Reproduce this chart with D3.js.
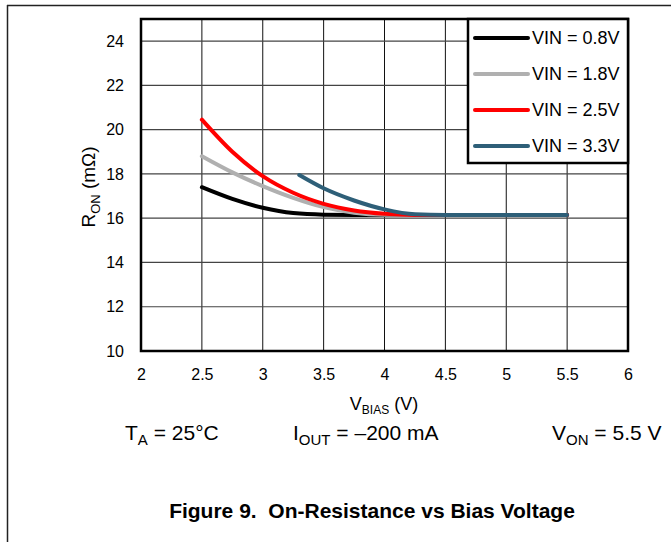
<!doctype html>
<html lang="en">
<head>
<meta charset="utf-8">
<title>On-Resistance vs Bias Voltage</title>
<script src="https://d3js.org/d3.v7.min.js"></script>
<style>
    body { margin: 0; background: #fff; font-family: Arial, "Liberation Sans", sans-serif; }
    text { fill: #000; font-family: Arial, "Liberation Sans", sans-serif; }
    .tick text { font-size: 16px; }
</style>
</head>
<body>
<div id="chart"></div>
<script>
    // data
    const xTicks = [2, 2.5, 3, 3.5, 4, 4.5, 5, 5.5, 6];
    const yTicks = [10, 12, 14, 16, 18, 20, 22, 24];
    const seriesNames = ["VIN = 0.8V", "VIN = 1.8V", "VIN = 2.5V", "VIN = 3.3V"];
    const seriesColors = ["#000000", "#b0b0b0", "#ff0000", "#2e5f78"];
    const vin08 = [[2.5, 17.4], [2.75, 16.87], [3.0, 16.47], [3.25, 16.23], [3.5, 16.16], [3.75, 16.15], [4.0, 16.15], [4.5, 16.15], [5.0, 16.15], [5.5, 16.15]];
    const vin18 = [[2.5, 18.8], [2.75, 18.07], [3.0, 17.45], [3.25, 16.92], [3.5, 16.5], [3.75, 16.25], [4.0, 16.16], [4.25, 16.15], [4.5, 16.15], [5.0, 16.15], [5.5, 16.15]];
    const vin25 = [[2.5, 20.45], [2.75, 19.0], [3.0, 17.9], [3.25, 17.15], [3.5, 16.65], [3.75, 16.35], [4.0, 16.2], [4.25, 16.15], [4.5, 16.15], [5.0, 16.15], [5.5, 16.15]];
    const vin33 = [[3.3, 17.95], [3.5, 17.35], [3.75, 16.8], [4.0, 16.4], [4.25, 16.18], [4.5, 16.15], [5.0, 16.15], [5.5, 16.15]];
    const series = [vin08, vin18, vin25, vin33];

    const W = 671, H = 542;
    const margin = {left: 141, right: 43, top: 19, bottom: 191};
    const width = W - margin.left - margin.right;
    const height = H - margin.top - margin.bottom;

    const svg = d3.select("#chart").append("svg")
        .attr("width", W)
        .attr("height", H);

    // page frame
    svg.append("line").attr("x1", 7).attr("x2", W).attr("y1", 5.5).attr("y2", 5.5)
        .attr("stroke", "#222").attr("stroke-width", 1.5);
    svg.append("line").attr("x1", 7.5).attr("x2", 7.5).attr("y1", 5).attr("y2", H)
        .attr("stroke", "#222").attr("stroke-width", 1.5);

    const x = d3.scaleLinear().domain([2, 6]).range([0, width]);
    const y = d3.scaleLinear().domain([10, 25]).range([height, 0]);

    const g = svg.append("g").attr("transform", `translate(${margin.left},${margin.top})`);

    // grid
    g.selectAll(".vgrid").data(xTicks).enter().append("line")
        .attr("x1", d => x(d)).attr("x2", d => x(d))
        .attr("y1", 0).attr("y2", height)
        .attr("stroke", "#111").attr("stroke-width", 1);
    g.selectAll(".hgrid").data(yTicks).enter().append("line")
        .attr("x1", 0).attr("x2", width)
        .attr("y1", d => y(d)).attr("y2", d => y(d))
        .attr("stroke", "#444").attr("stroke-width", 1.2);

    // tick labels
    const xAxis = g.append("g")
        .attr("transform", `translate(0,${height})`)
        .call(d3.axisBottom(x).tickValues(xTicks).tickSize(0).tickPadding(18).tickFormat(d3.format("")));
    xAxis.select(".domain").remove();

    const yAxis = g.append("g")
        .call(d3.axisLeft(y).tickValues(yTicks).tickSize(0).tickPadding(17));
    yAxis.select(".domain").remove();

    // curves
    const line = d3.line()
        .x(d => x(d[0]))
        .y(d => y(d[1]))
        .curve(d3.curveMonotoneX);

    g.selectAll(".curve").data(series).enter().append("path")
        .attr("d", line)
        .attr("fill", "none")
        .attr("stroke", (d, i) => seriesColors[i])
        .attr("stroke-width", 4)
        .attr("stroke-linecap", "round");

    // frame
    g.append("rect")
        .attr("width", width).attr("height", height)
        .attr("fill", "none").attr("stroke", "#000").attr("stroke-width", 2.5);

    // legend
    const legend = g.append("g").attr("transform", `translate(${width - 160},0)`);
    legend.append("rect")
        .attr("width", 160).attr("height", 144)
        .attr("fill", "#fff").attr("stroke", "#000").attr("stroke-width", 2.5);
    seriesNames.forEach((name, i) => {
        const ly = 19 + i * 36;
        legend.append("line")
            .attr("x1", 7).attr("x2", 60).attr("y1", ly).attr("y2", ly)
            .attr("stroke", seriesColors[i]).attr("stroke-width", 4).attr("stroke-linecap", "round");
        legend.append("text")
            .attr("x", 64).attr("y", ly).attr("dy", "0.36em")
            .attr("font-size", 18).text(name);
    });

    // axis titles
    const yTitle = svg.append("text")
        .attr("transform", `translate(95,187) rotate(-90)`)
        .attr("text-anchor", "middle").attr("font-size", 19);
    yTitle.append("tspan").text("R");
    yTitle.append("tspan").attr("font-size", 13).attr("dy", 5).text("ON");
    yTitle.append("tspan").attr("dy", -5).text(" (mΩ)");

    const xTitle = svg.append("text")
        .attr("x", 384).attr("y", 410)
        .attr("text-anchor", "middle").attr("font-size", 18);
    xTitle.append("tspan").text("V");
    xTitle.append("tspan").attr("font-size", 12).attr("dy", 4).text("BIAS");
    xTitle.append("tspan").attr("dy", -4).text(" (V)");

    // conditions
    function cond(xPos, main, sub, rest) {
        const t = svg.append("text").attr("x", xPos).attr("y", 440).attr("font-size", 21);
        t.append("tspan").text(main);
        t.append("tspan").attr("font-size", 15).attr("dy", 5).text(sub);
        t.append("tspan").attr("dy", -5).text(rest);
    }
    cond(125, "T", "A", " = 25°C");
    cond(293, "I", "OUT", " = –200 mA");
    cond(552, "V", "ON", " = 5.5 V");

    svg.append("text")
        .attr("x", 372).attr("y", 518)
        .attr("text-anchor", "middle")
        .attr("font-size", 21).attr("font-weight", "bold")
        .attr("xml:space", "preserve")
        .text("Figure 9.  On-Resistance vs Bias Voltage");
</script>
</body>
</html>
